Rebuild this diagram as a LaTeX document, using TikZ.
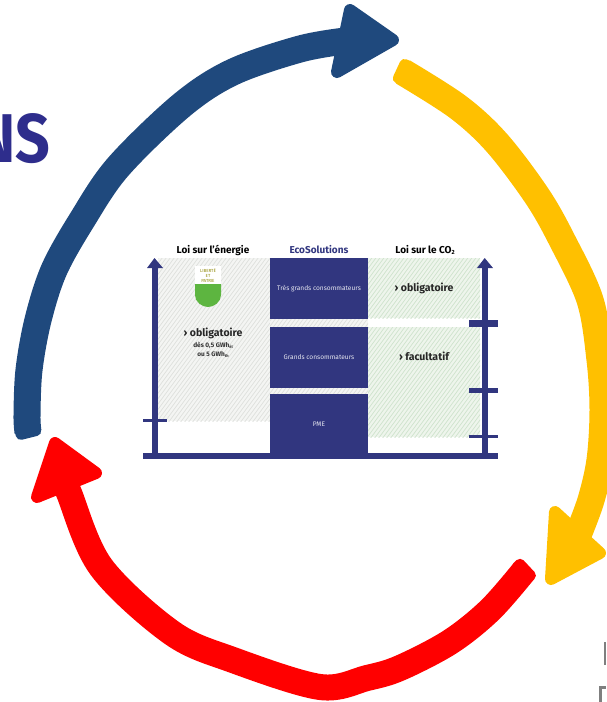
\documentclass[tikz,border=0pt]{standalone}
\usepackage{fontspec}
\setmainfont{Fira Sans}
\definecolor{arcblue}{HTML}{1F497D}
\definecolor{arcyellow}{HTML}{FFC000}
\definecolor{arcred}{HTML}{FF0000}
\definecolor{navy}{HTML}{31367F}
\definecolor{titleblue}{HTML}{2E2D8C}
\definecolor{graytint}{HTML}{F4F5F3}
\definecolor{grayline}{HTML}{DEE0DC}
\definecolor{greentint}{HTML}{EEF5EC}
\definecolor{greenline}{HTML}{CFE3CD}
\definecolor{shieldgreen}{HTML}{5DB540}
\definecolor{fragment}{HTML}{7F7F7F}
\tikzset{
  band/.style={line width=#1,line cap=butt},
  head/.style={fill=#1,draw=#1,line width=12pt,line join=round},
  bandend/.style={fill=#1,draw=none,rounded corners=5pt,minimum width=26pt,minimum height=14pt,inner sep=0pt},
  solid bar/.style={fill=navy,draw=none,inner sep=0pt},
  column title/.style={font=\bfseries\fontsize{10}{10}\selectfont,text=black,inner sep=0pt,anchor=center},
  big label/.style={font=\bfseries\fontsize{10.5}{11}\selectfont,text=black!85,inner sep=0pt,anchor=center},
  small label/.style={font=\bfseries\fontsize{6.5}{7}\selectfont,text=black!80,inner sep=0pt,anchor=center},
  box label/.style={font=\fontsize{6.6}{7}\selectfont,text=white!88!navy,inner sep=0pt,anchor=center}
}
\newcommand{\hatchfill}[6]{%
  \fill[#5] (#1,#2) rectangle (#3,#4);
  \begin{scope}
    \clip (#1,#2) rectangle (#3,#4);
    \foreach \k in {0,4,...,320}{
      \draw[#6,line width=.7pt] (#1+\k-160,#4+10) -- ++(140,-189);
    }
  \end{scope}
}
\begin{document}
\begin{tikzpicture}[x=1pt,y=-1pt]
\useasboundingbox (0,0) rectangle (606,702);
\begin{scope}
\clip (0,0) rectangle (606,702);
\node[font=\bfseries\fontsize{69}{69}\selectfont,text=titleblue,anchor=east,inner sep=0pt,xscale=.88] (title) at (50.5,139) {NS};
\fill[fragment] (604,642) rectangle (606,665);
\fill[fragment] (599,686) rectangle (601.5,702);
\fill[fragment] (599,686) rectangle (606,688.5);
\end{scope}
% chart hatching
\hatchfill{158}{258}{270}{421}{graytint}{grayline}
\hatchfill{368}{258}{480}{318}{greentint}{greenline}
\hatchfill{368}{327}{480}{437}{greentint}{greenline}
\hatchfill{270}{319}{368}{327}{graytint}{grayline}
\hatchfill{270}{388}{368}{394}{graytint}{grayline}
% chart boxes
\node[solid bar,minimum width=98pt,minimum height=61pt] (big) at (319,288.5) {};
\node[solid bar,minimum width=98pt,minimum height=61pt] (mid) at (319,357.5) {};
\node[solid bar,minimum width=98pt,minimum height=59pt] (sme) at (319,423.5) {};
\node[box label] (bigt) at (319,289) {Très grands consommateurs};
\node[box label] (midt) at (319,357) {Grands consommateurs};
\node[box label] (smet) at (319,424) {PME};
% axes
\fill[navy] (143,453) rectangle (498,459);
\fill[navy] (152,266) rectangle (158,453);
\fill[navy] (482,266) rectangle (487.5,453);
\fill[navy] (154.5,258) -- (163,268) -- (147,268) -- cycle;
\fill[navy] (484.7,258) -- (493,268) -- (477,268) -- cycle;
\fill[navy] (143,419) rectangle (167,422);
\fill[navy] (469,320) rectangle (498,327);
\fill[navy] (469,388) rectangle (498,393);
\fill[navy] (469,435) rectangle (498,438);
% column titles
\node[column title] (t1) at (213,250) {Loi sur l'énergie};
\node[column title,text=navy] (t2) at (319,250) {EcoSolutions};
\node[column title] (t3) at (425,250) {Loi sur le CO\raisebox{-1.5pt}{\fontsize{6}{6}\selectfont 2}};
% labels
\node[big label] (l1) at (213,333) {› obligatoire};
\node[small label] (l2) at (213,345) {dès 0,5 GWh\raisebox{-1pt}{\fontsize{4}{4}\selectfont él}};
\node[small label] (l3) at (213,355) {ou 5 GWh\raisebox{-1pt}{\fontsize{4}{4}\selectfont th}};
\node[big label] (r1) at (424,288) {› obligatoire};
\node[big label] (r2) at (424,356) {› facultatif};
% shield
\fill[white] (195,266) -- (221,266) -- (221,285) -- (195,285) -- cycle;
\fill[shieldgreen] (195,284) -- (221,284) -- (221,295) .. controls (221,302) and (214,307) .. (208,307) .. controls (202,307) and (195,302) .. (195,295) -- cycle;
\node[font=\fontsize{4.4}{5.2}\selectfont,text=olive,align=center,inner sep=0pt] (motto) at (208,275.5) {LIBERTÉ\\ET\\PATRIE};
% blue arrow
\draw[band=27pt,draw=arcblue] plot[smooth,tension=.55] coordinates {(28,432) (27,415) (29,370) (38,320) (54,270) (82,220) (118,167) (182,105) (233,72) (300,49) (345,41)};
\node[bandend=arcblue,rotate=14] (blueend) at (28,431) {};
\fill[head=arcblue] (393,40) -- (350,10) -- (337,72) -- cycle;
% yellow arrow
\draw[band=27pt,draw=arcyellow] plot[smooth,tension=.55] coordinates {(403,72) (458,107) (497,143) (537,196) (562,240) (590,300) (600,360) (603,410) (600,460) (591,500) (578,535)};
\node[bandend=arcyellow,rotate=65] (yellowend) at (403,72) {};
\fill[head=arcyellow] (551,579) -- (555,512) -- (600,553) -- cycle;
% red arrow
\draw[band=26pt,draw=arcred] plot[smooth,tension=.55] coordinates {(524,571) (490,610) (450,642) (400,668) (367,678) (320,687) (233,660) (172,633) (101,567) (69,493) (63,478)};
\node[bandend=arcred,rotate=-47] (redend) at (524,571) {};
\fill[head=arcred] (55,443) -- (37,497) -- (96,473) -- cycle;
\end{tikzpicture}
\end{document}
